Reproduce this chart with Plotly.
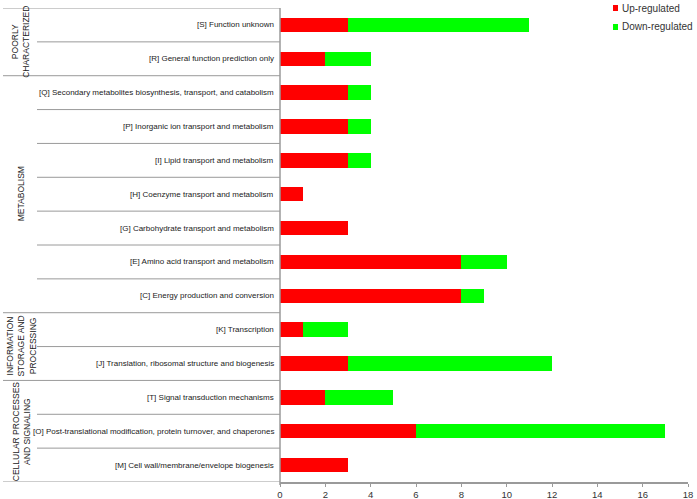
import plotly.graph_objects as go

categories = [
    "[S] Function unknown",
    "[R] General function prediction only",
    "[Q] Secondary metabolites biosynthesis, transport, and catabolism",
    "[P] Inorganic ion transport and metabolism",
    "[I] Lipid transport and metabolism",
    "[H] Coenzyme transport and metabolism",
    "[G] Carbohydrate transport and metabolism",
    "[E] Amino acid transport and metabolism",
    "[C] Energy production and conversion",
    "[K] Transcription",
    "[J] Translation, ribosomal structure and biogenesis",
    "[T] Signal transduction mechanisms",
    "[O] Post-translational modification, protein turnover, and chaperones",
    "[M] Cell wall/membrane/envelope biogenesis",
]
up_regulated = [3, 2, 3, 3, 3, 1, 3, 8, 8, 1, 3, 2, 6, 3]
down_regulated = [8, 2, 1, 1, 1, 0, 0, 2, 1, 2, 9, 3, 11, 0]

groups = ["POORLY<br>CHARACTERIZED", "METABOLISM",
          "INFORMATION<br>STORAGE AND<br>PROCESSING", "CELLULAR PROCESSES<br>AND SIGNALING"]
group_sizes = [2, 7, 2, 3]

x_ticks = [0, 2, 4, 6, 8, 10, 12, 14, 16, 18]

W, H = 697, 499
n = len(categories)
ypos = [n - 1 - i for i in range(n)]
FONT = "Liberation Sans, Arial"

fig = go.Figure()
fig.add_trace(go.Bar(y=ypos, x=up_regulated, orientation="h", marker=dict(color="#FF0000", line=dict(width=0)),
                     width=0.43, showlegend=False, name="Up-regulated"))
fig.add_trace(go.Bar(y=ypos, x=down_regulated, orientation="h", marker=dict(color="#00FF00", line=dict(width=0)),
                     width=0.43, showlegend=False, name="Down-regulated"))

ax_left = 280 / W
ax_right = 688 / W
shapes = []
annotations = []
for i, cat in enumerate(categories):
    annotations.append(dict(x=276 / W, y=ypos[i], xref="paper", yref="y", text=cat, showarrow=False,
                            xanchor="right", yanchor="middle",
                            font=dict(family=FONT, size=8, color="#222222")))
group_bounds = [0]
b = 0
for s in group_sizes:
    b += s
    group_bounds.append(b)
for k in range(n + 1):
    yb = n - 1 - k + 0.5
    x0 = 3 / W if k in group_bounds else 37 / W
    shapes.append(dict(type="line", xref="paper", yref="y", x0=x0, x1=ax_left, y0=yb, y1=yb,
                       line=dict(color="#9a9a9a", width=1)))
for gi, g in enumerate(groups):
    start, end = group_bounds[gi], group_bounds[gi + 1]
    ycenter = n - 1 - (start + end - 1) / 2
    annotations.append(dict(x=21 / W, y=ycenter, xref="paper", yref="y", text=g, showarrow=False,
                            textangle=-90, xanchor="center", yanchor="middle", align="center",
                            font=dict(family=FONT, size=8.5, color="#222222")))
shapes.append(dict(type="line", xref="paper", yref="paper", x0=ax_left, x1=ax_left,
                   y0=1 - 485 / H, y1=1 - 8 / H, line=dict(color="#9a9a9a", width=1.5)))

leg = [("Up-regulated", "#FF0000", 8), ("Down-regulated", "#00FF00", 27)]
for name, col, yy in leg:
    shapes.append(dict(type="rect", xref="paper", yref="paper", x0=613 / W, x1=618 / W,
                       y0=1 - (yy + 3) / H, y1=1 - (yy - 3) / H, fillcolor=col, line=dict(width=0)))
    annotations.append(dict(x=620 / W, y=1 - yy / H, xref="paper", yref="paper", text=name, showarrow=False,
                            xanchor="left", yanchor="middle",
                            font=dict(family=FONT, size=10, color="#333333")))

fig.update_layout(
    width=W, height=H,
    margin=dict(l=0, r=0, t=0, b=0),
    paper_bgcolor="white", plot_bgcolor="white",
    barmode="stack", bargap=0,
    shapes=shapes, annotations=annotations,
    showlegend=False,
    xaxis=dict(domain=[ax_left, ax_right], range=[0, 18], tickvals=x_ticks, showgrid=False, zeroline=False,
               showline=True, linecolor="#9a9a9a", linewidth=1.5, ticks="outside", ticklen=3,
               tickcolor="#9a9a9a", tickfont=dict(family=FONT, size=9.5, color="#333333"),
               automargin=False, fixedrange=True),
    yaxis=dict(domain=[1 - 482 / H, 1 - 8 / H], range=[-0.5, n - 0.5], showticklabels=False, showgrid=False,
               zeroline=False, showline=False, ticks="", automargin=False, fixedrange=True),
)

fig.write_html("out.html", config={"displayModeBar": False},
               post_script="document.body.style.margin='0';document.body.style.padding='0';")
